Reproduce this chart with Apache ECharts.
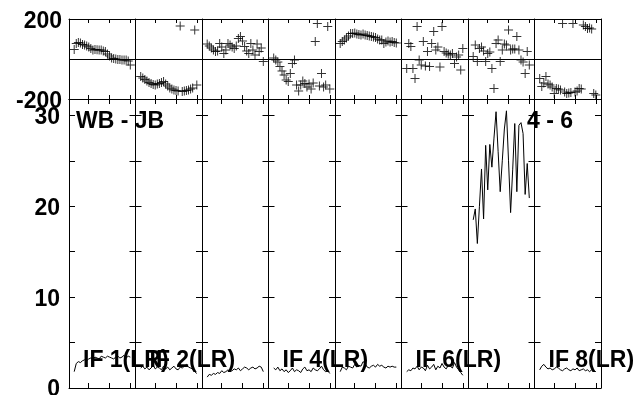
<!DOCTYPE html>
<html><head><meta charset="utf-8">
<script src="https://cdn.jsdelivr.net/npm/echarts@6/dist/echarts.min.js"></script>
<style>html,body{margin:0;padding:0;background:#fff}#c{width:638px;height:395px}</style>
</head><body><div id="c"></div>
<script>
// ---- data ----
const channels = [3,4,5,6,7,8,9,10,11,12,13,14,15,16,17,18,19,20,21,22,23,24,25,26,27,28,29,30];
const ifLabels = ['IF 1(LR)','IF 2(LR)','','IF 4(LR)','','IF 6(LR)','','IF 8(LR)'];
const baselineLabel = 'WB - JB';
const sourceLabel = '4 - 6';
const channelTicks = [10, 20, 30];
const phaseLabelTicks = [-200, 200];
const ampLabelTicks = [10, 20, 30];
const ampZeroLabel = '0';
const ampMinorTicks = [5, 10, 15, 20, 25, 30];

const phaseIF1 = [48, 78, 82, 80, 72, 70, 65, 60, 52, 45, 48, 46, 45, 45, 40, 37, 25, 15, 5, 3, 0, -2, -3, -5, -5, -5, -10, -30];
const phaseIF2 = [-88, -95, -102, -110, -118, -122, -128, -130, -125, -122, -118, -113, -125, -135, -145, -150, -155, -158, -160, 165, -163, -160, -158, -155, -150, -145, 145, -130];
const phaseIF3 = [75, 65, 55, 45, 37, 40, 78, 60, 28, 45, 78, 70, 60, 53, 65, 103, 112, 90, 62, 40, 28, 78, 45, 20, 75, 37, 55, -13];
const phaseIF4 = [5, -5, -15, -38, -60, -80, -105, -113, -72, -22, -5, -130, -160, -130, -110, -122, -140, -125, -150, -120, 87, 178, -135, -72, -140, -130, 162, -150];
const phaseIF5 = [78, 88, 95, 105, 115, 128, 128, 130, 125, 122, 120, 125, 120, 118, 115, 112, 110, 108, 100, 95, 95, 78, 85, 90, 85, 87, 82, 80];
const phaseIF6 = [-47, 78, 62, -47, -97, 162, -5, -30, 87, -35, 37, -38, 78, 137, 45, 60, -40, 162, 37, 30, 25, 20, 28, -22, 10, 20, -55, 53];
const phaseIF7 = [12, 70, -13, 53, 60, 40, -13, 28, 35, -47, -147, 78, 95, -13, 45, 75, 70, 145, 45, 50, 50, 112, 45, -5, -15, -72, 37, -30];
const phaseIF8 = [-97, -138, -120, -88, -125, -130, -140, -172, -147, -150, -155, 178, -165, -172, -170, -168, 178, -165, -160, -147, -150, 170, 162, 153, 155, 150, -172, -180];

const ampIF1 = [1.8, 2.7, 2.9, 2.8, 3.0, 3.1, 3.0, 3.2, 3.3, 3.2, 3.4, 3.3, 3.2, 3.5, 3.4, 3.3, 3.5, 3.4, 3.3, 3.2, 3.4, 3.5, 3.3, 3.4, 3.6, 3.3, 3.5, 3.4];
const ampIF2 = [2.2, 2.4, 2.1, 2.3, 2.0, 2.2, 2.5, 2.1, 2.3, 2.2, 2.0, 2.4, 2.1, 2.3, 2.0, 2.2, 2.4, 2.1, 2.0, 2.3, 2.2, 2.4, 2.6, 2.3, 2.2, 2.1, 1.8, 1.6];
const ampIF3 = [1.2, 1.5, 1.4, 1.6, 1.5, 1.7, 1.6, 1.9, 1.7, 1.8, 2.0, 1.8, 1.9, 2.1, 2.0, 2.2, 1.9, 2.1, 2.3, 2.2, 2.0, 2.2, 2.3, 2.1, 2.2, 2.4, 2.3, 1.8];
const ampIF4 = [2.2, 2.0, 2.3, 1.9, 2.1, 1.8, 2.0, 1.7, 1.9, 2.2, 1.8, 2.0, 1.9, 1.7, 2.1, 2.3, 1.9, 2.0, 1.8, 2.2, 2.0, 1.9, 2.1, 2.4, 2.0, 1.8, 1.9, 1.6];
const ampIF5 = [1.8, 2.3, 2.2, 2.0, 2.4, 2.3, 2.2, 2.6, 2.3, 2.5, 2.4, 2.9, 2.7, 2.3, 2.2, 2.4, 2.5, 2.3, 2.6, 2.4, 2.5, 2.3, 2.2, 2.4, 2.3, 2.4, 2.3, 2.3];
const ampIF6 = [1.8, 2.0, 1.9, 2.2, 2.1, 2.4, 2.0, 2.3, 2.2, 1.9, 2.5, 2.1, 2.3, 2.6, 2.0, 2.4, 2.2, 2.7, 2.3, 2.1, 2.5, 2.4, 2.2, 2.8, 2.3, 2.0, 1.7, 1.4];
const ampIF7 = [18.5, 19.7, 15.9, 20, 24.1, 18.6, 26.7, 21.8, 26.8, 24.3, 27.5, 30.4, 26, 21.6, 25, 28.5, 30.5, 25, 19.3, 24, 29.1, 21.6, 28.9, 29.2, 28.0, 21.3, 24.7, 20.9];
const ampIF8 = [2.0, 2.4, 2.6, 2.3, 2.1, 2.2, 2.0, 2.1, 2.3, 2.2, 2.0, 1.9, 2.1, 2.2, 2.0, 1.9, 2.1, 2.0, 2.2, 1.9, 2.0, 2.1, 1.9, 2.0, 1.8, 2.0, 1.9, 1.8];

const phases = [phaseIF1, phaseIF2, phaseIF3, phaseIF4, phaseIF5, phaseIF6, phaseIF7, phaseIF8];
const amps = [ampIF1, ampIF2, ampIF3, ampIF4, ampIF5, ampIF6, ampIF7, ampIF8];

// ---- layout ----
const L = 69, W = 66.5, PT = 19, PH = 80, AT = 99, AH = 289;
const N = 8;
const FONT = '"Liberation Sans", Arial, sans-serif';
const lineStyle = {color: '#000', width: 1};
const richLabel = {
  formatter: v => '{a|' + v + '}',
  rich: {a: {fontFamily: FONT, fontWeight: 'bold', fontSize: 23, color: '#000', padding: [5, 0, 0, 0]}}
};

const grid = [], xAxis = [], yAxis = [], series = [];
const cross = 'path://M0,4H9V5H0ZM4,0H5V9H4Z';

function addGrid(i, isAmp) {
  const g = grid.length;
  grid.push({left: L + i * W, top: isAmp ? AT : PT, width: W, height: isAmp ? AH : PH, containLabel: false});
  const tl = isAmp ? 5 : 4;
  ['bottom', 'top'].forEach(pos => {
    xAxis.push({type: 'value', gridIndex: g, position: pos, min: 0.5, max: 32.5,
      axisLine: {show: true, onZero: false, lineStyle},
      axisTick: {show: true, inside: true, length: tl, customValues: channelTicks, lineStyle},
      axisLabel: {show: false}, splitLine: {show: false}});
  });
  if (!isAmp) {
    yAxis.push({type: 'value', gridIndex: g, position: 'left', min: -200, max: 200, interval: 200,
      axisLine: {show: true, lineStyle}, axisTick: {show: false},
      axisLabel: {show: i === 0, customValues: phaseLabelTicks, margin: 7, ...richLabel},
      splitLine: {show: true, lineStyle}});
    yAxis.push({type: 'value', gridIndex: g, position: 'right', min: -200, max: 200,
      axisLine: {show: i === N - 1, lineStyle}, axisTick: {show: false},
      axisLabel: {show: false}, splitLine: {show: false}});
  } else {
    yAxis.push({type: 'value', gridIndex: g, position: 'left', min: 0, max: 31.8,
      axisLine: {show: true, lineStyle},
      axisTick: {show: true, inside: true, length: 6, customValues: ampMinorTicks, lineStyle},
      axisLabel: {show: i === 0, customValues: ampLabelTicks, margin: 9, ...richLabel},
      splitLine: {show: false}});
    yAxis.push({type: 'value', gridIndex: g, position: 'right', min: 0, max: 31.8,
      axisLine: {show: i === N - 1, lineStyle},
      axisTick: {show: true, inside: true, length: 6, customValues: ampMinorTicks, lineStyle},
      axisLabel: {show: false}, splitLine: {show: false}});
  }
  return g;
}

for (let i = 0; i < N; i++) {
  const g = addGrid(i, false);
  series.push({type: 'scatter', xAxisIndex: g * 2, yAxisIndex: g * 2,
    data: channels.map((c, k) => [c, phases[i][k]]),
    symbol: cross, symbolSize: 9, itemStyle: {color: '#000'}, silent: true, z: 5});
}
for (let i = 0; i < N; i++) {
  const g = addGrid(i, true);
  series.push({type: 'line', xAxisIndex: g * 2, yAxisIndex: g * 2,
    data: channels.map((c, k) => [c, amps[i][k]]),
    showSymbol: false, symbol: 'none', lineStyle: {color: '#000', width: 1}, silent: true, z: 5});
}

const graphic = [];
function addText(text, x, y, align) {
  graphic.push({type: 'text', x, y, z: 100,
    style: {text, fill: '#000', font: 'bold 23px ' + FONT, align: align || 'left', textAlign: align || 'left',
            verticalAlign: 'middle', textVerticalAlign: 'middle'}});
}
addText(baselineLabel, 76, 122);
addText(sourceLabel, 527, 122);
ifLabels.forEach((t, i) => { if (t) addText(t, L + i * W + 14, 361); });
// zero label of the amplitude axis (kept as text so it may run past the bottom edge like the original)
addText(ampZeroLabel, L - 9, AT + AH + 2, 'right');

const chart = echarts.init(document.getElementById('c'), null, {renderer: 'canvas'});
chart.setOption({animation: false, backgroundColor: '#fff', grid, xAxis, yAxis, series, graphic});
</script>
</body></html>
